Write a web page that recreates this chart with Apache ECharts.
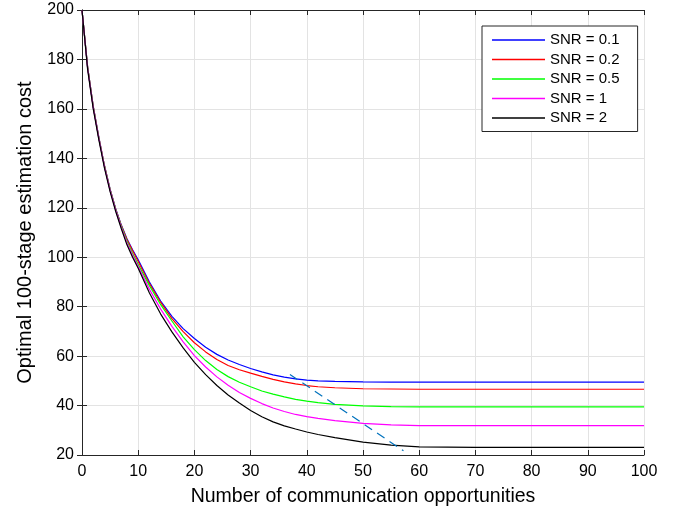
<!DOCTYPE html>
<html>
<head>
<meta charset="utf-8">
<script src="https://cdn.jsdelivr.net/npm/echarts@6/dist/echarts.min.js"></script>
<style>
  html, body { margin: 0; padding: 0; background: #fff; }
  #chart { width: 684px; height: 515px; }
</style>
</head>
<body>
<div id="chart"></div>
<script>
// number of communication opportunities
var xs = [0, 1, 2, 3, 4, 5, 6, 7, 8, 9, 10, 12, 14, 16, 18, 20, 22, 24, 26, 28, 30,
  32, 34, 36, 38, 40, 42, 45, 50, 55, 60, 70, 80, 90, 100]

// cost curves, one per SNR
var snr01 = [200, 177, 161, 148.5, 137, 127.5, 119.5, 113, 107.5, 103, 99, 90, 82.3, 76.1, 71.1, 67.1, 63.6, 60.7, 58.4, 56.6, 55.0,
  53.6, 52.4, 51.5, 50.8, 50.3, 50.0, 49.8, 49.6, 49.5, 49.5, 49.5, 49.5, 49.5, 49.5]
var snr02 = [200, 177, 161, 148.4, 137, 127.4, 119.4, 112.8, 107.2, 102.6, 98.3, 89.3, 81.7, 75.2, 69.9, 65.4, 61.7, 58.6, 56.2, 54.5, 53.1,
  51.8, 50.6, 49.6, 48.8, 48.1, 47.6, 47.2, 46.8, 46.7, 46.6, 46.6, 46.6, 46.6, 46.6]
var snr05 = [200, 176.8, 160.8, 148.2, 136.8, 127.3, 119.3, 112.5, 106.5, 101.5, 97, 88.5, 80.8, 74.2, 67.8, 62.6, 58.2, 54.6, 51.7, 49.4, 47.6,
  45.9, 44.6, 43.5, 42.5, 41.8, 41.2, 40.5, 39.9, 39.6, 39.5, 39.5, 39.5, 39.5, 39.5]
var snr1 = [200, 176.5, 160.5, 148, 136.5, 127, 119, 112, 105.8, 100.8, 96.2, 87, 79, 72, 65.8, 60.2, 55.6, 51.6, 48.2, 45.3, 42.9,
  40.8, 39.0, 37.6, 36.4, 35.5, 34.8, 33.9, 32.8, 32.2, 31.9, 31.9, 31.9, 31.9, 31.9]
var snr2 = [200, 176, 160, 147.5, 136, 126.5, 118.5, 111.5, 105, 100, 95.5, 85.5, 77, 69.8, 63.3, 57.5, 52.5, 48.1, 44.3, 41.0, 38.0,
  35.5, 33.4, 31.8, 30.5, 29.3, 28.3, 27.0, 25.2, 24.0, 23.3, 23.1, 23.1, 23.1, 23.1]

// dashed guide line (end points)
var guideX = [37.0, 57.2]
var guideY = [52.6, 21.7]

var names = ['SNR = 0.1', 'SNR = 0.2', 'SNR = 0.5', 'SNR = 1', 'SNR = 2']
var colors = ['#0000ff', '#ff0000', '#00ff00', '#ff00ff', '#000000']
var curves = [snr01, snr02, snr05, snr1, snr2]

var font = '"Liberation Sans", Arial, Helvetica, sans-serif'
var myChart = echarts.init(document.getElementById('chart'), null, { renderer: 'canvas' })

var series = curves.map(function (ys, i) {
  return {
    name: names[i],
    type: 'line',
    data: xs.map(function (x, j) { return [x, ys[j]] }),
    symbol: 'none',
    color: colors[i],
    lineStyle: { color: colors[i], width: 1.2 },
    z: 3
  }
})
series.push({
  name: 'guide',
  type: 'line',
  data: guideX.map(function (x, j) { return [x, guideY[j]] }),
  symbol: 'none',
  lineStyle: { color: '#0072BD', width: 1.2, type: [9, 6] },
  z: 4
})

var axisLine = { show: true, lineStyle: { color: '#262626', width: 1 } }
var tick = { show: true, inside: true, length: 5, lineStyle: { color: '#262626' } }

var option = {
  animation: false,
  backgroundColor: '#fff',
  grid: { left: 82, right: 40, top: 10, bottom: 60 },
  legend: {
    data: names,
    orient: 'vertical',
    left: 482,
    top: 26,
    icon: 'rect',
    itemWidth: 53,
    itemHeight: 1.3,
    itemGap: 4.5,
    padding: [6.5, 18, 6, 10],
    backgroundColor: '#fff',
    borderColor: '#262626',
    borderWidth: 1,
    borderRadius: 0,
    textStyle: { fontFamily: font, fontSize: 15, color: '#000', lineHeight: 15 }
  },
  xAxis: [{
    type: 'value', min: 0, max: 100, interval: 10,
    name: 'Number of communication opportunities',
    nameLocation: 'middle', nameGap: 32,
    nameTextStyle: { fontFamily: font, fontSize: 19.5, color: '#000' },
    axisLine: axisLine, axisTick: tick,
    axisLabel: { fontFamily: font, fontSize: 16, color: '#000', margin: 9 },
    splitLine: { show: true, lineStyle: { color: '#e3e3e3', width: 1 } }
  }, {
    type: 'value', min: 0, max: 100, interval: 10, position: 'top',
    axisLine: axisLine, axisTick: tick, axisLabel: { show: false }, splitLine: { show: false }
  }],
  yAxis: [{
    type: 'value', min: 20, max: 200, interval: 20,
    name: 'Optimal 100-stage estimation cost',
    nameLocation: 'middle', nameGap: 47,
    nameTextStyle: { fontFamily: font, fontSize: 20, color: '#000' },
    axisLine: axisLine, axisTick: tick,
    axisLabel: { fontFamily: font, fontSize: 16, color: '#000', margin: 8 },
    splitLine: { show: true, lineStyle: { color: '#e3e3e3', width: 1 } }
  }, {
    type: 'value', min: 20, max: 200, interval: 20, position: 'right',
    axisLine: axisLine, axisTick: tick, axisLabel: { show: false }, splitLine: { show: false }
  }],
  series: series
}

myChart.setOption(option)
</script>
</body>
</html>
